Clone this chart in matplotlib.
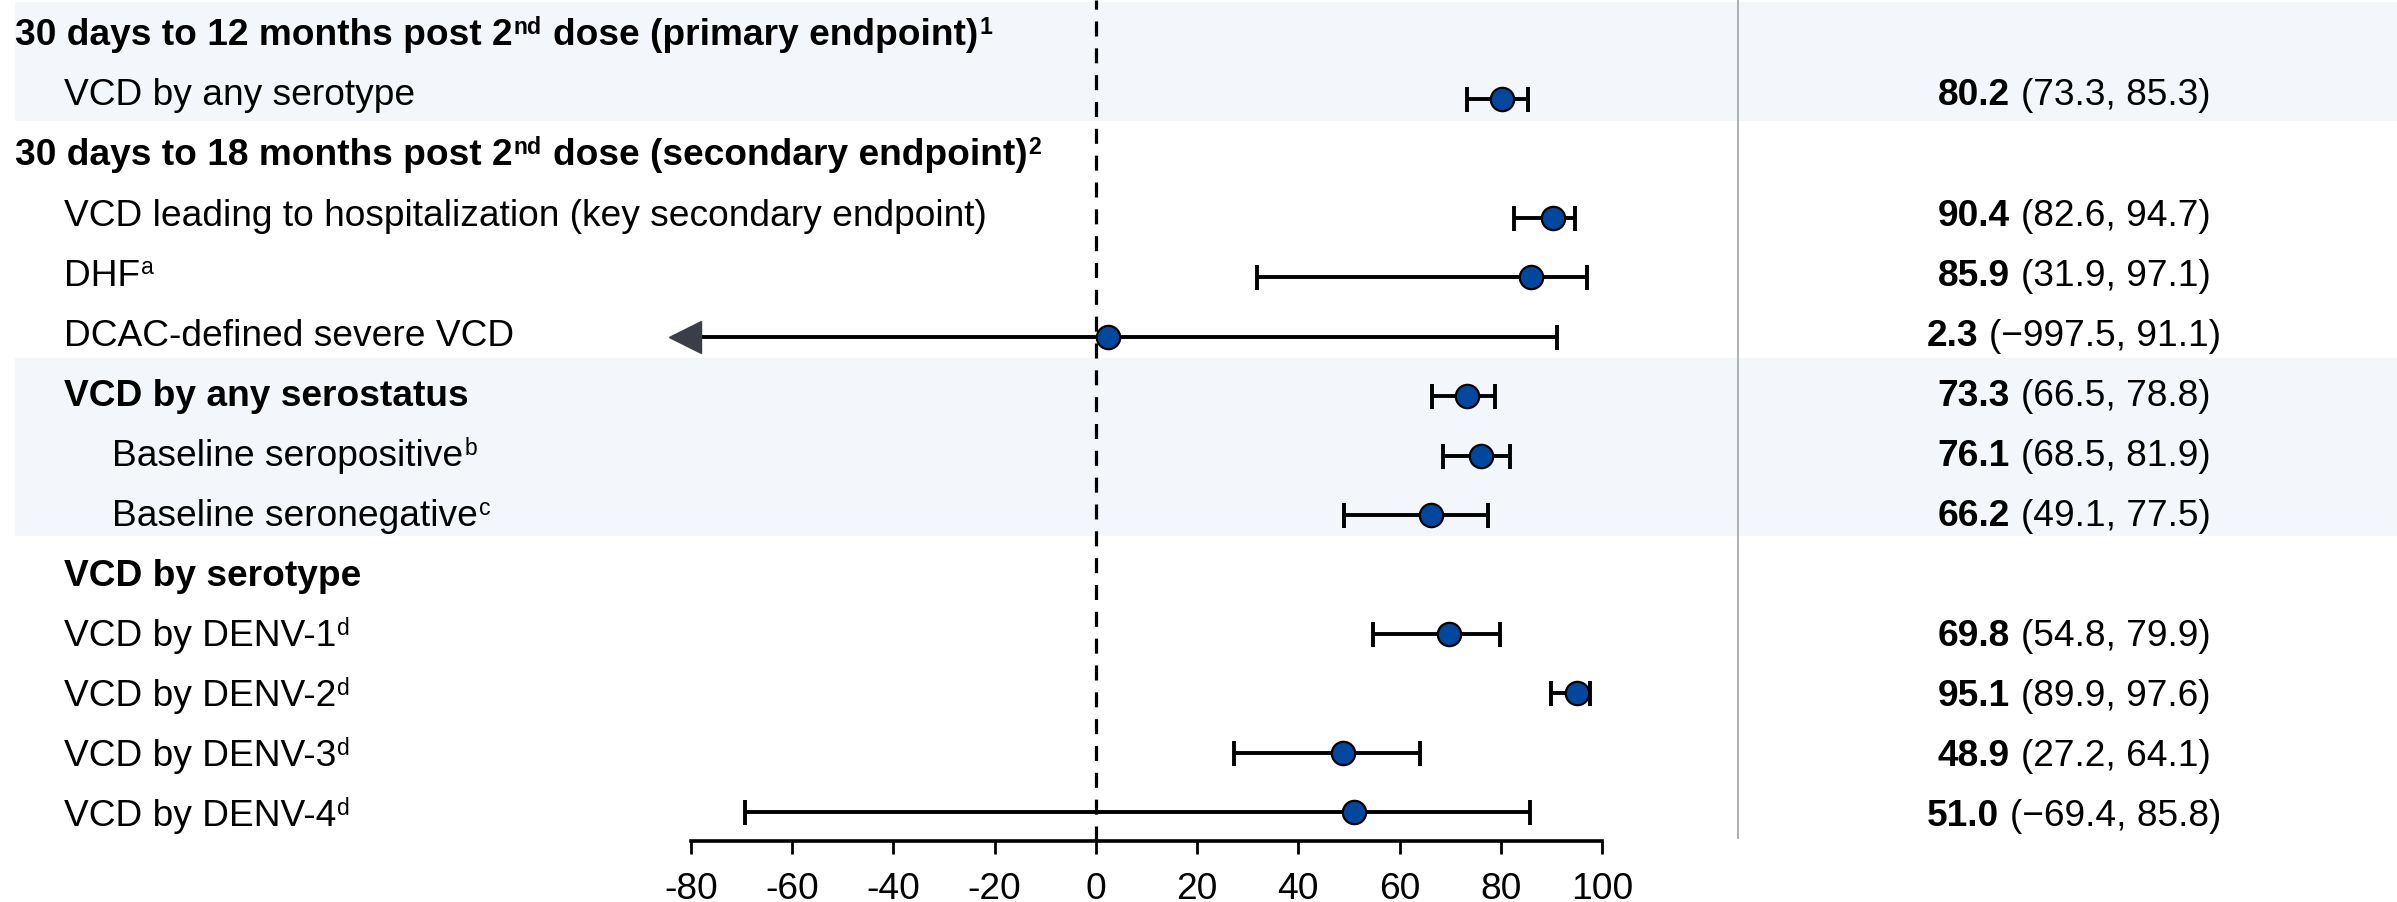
import re
import numpy as np
import matplotlib
matplotlib.use("Agg")
import matplotlib.pyplot as plt
import matplotlib.transforms as mtransforms
from matplotlib.patches import Rectangle
from matplotlib.lines import Line2D

plt.rcParams['font.family'] = ['Liberation Sans', 'DejaVu Sans']
plt.rcParams['axes.unicode_minus'] = False

# ---------------- data ----------------
# "^{...}" marks superscript text
labels = [
    "30 days to 12 months post 2^{nd} dose (primary endpoint)^{1}",
    "VCD by any serotype",
    "30 days to 18 months post 2^{nd} dose (secondary endpoint)^{2}",
    "VCD leading to hospitalization (key secondary endpoint)",
    "DHF^{a}",
    "DCAC-defined severe VCD",
    "VCD by any serostatus",
    "Baseline seropositive^{b}",
    "Baseline seronegative^{c}",
    "VCD by serotype",
    "VCD by DENV-1^{d}",
    "VCD by DENV-2^{d}",
    "VCD by DENV-3^{d}",
    "VCD by DENV-4^{d}",
]
levels = [0, 1, 0, 1, 1, 1, 1, 2, 2, 1, 1, 1, 1, 1]
bold_rows = [True, False, True, False, False, False, True, False, False, True,
             False, False, False, False]
nan = np.nan
estimates = [nan, 80.2, nan, 90.4, 85.9, 2.3, 73.3, 76.1, 66.2, nan, 69.8, 95.1, 48.9, 51.0]
lower = [nan, 73.3, nan, 82.6, 31.9, -997.5, 66.5, 68.5, 49.1, nan, 54.8, 89.9, 27.2, -69.4]
upper = [nan, 85.3, nan, 94.7, 97.1, 91.1, 78.8, 81.9, 77.5, nan, 79.9, 97.6, 64.1, 85.8]
shaded_groups = [(0, 1), (6, 8)]
xticks = [-80, -60, -40, -20, 0, 20, 40, 60, 80, 100]

# ---------------- style / layout ----------------
W, H, DPI = 2397, 902, 100
FS = 26.7
FS_PX = FS * DPI / 72
SUP_FS = 0.62 * FS
SUP_RAISE_PX = 0.30 * FS_PX
MARKER_FC = '#00479D'
BAND_C = '#F3F7FB'
ARROW_C = '#3B3E46'
SEP_C = '#A6A9AE'
LW = 2.8

fig = plt.figure(figsize=(W / DPI, H / DPI), dpi=DPI)
fig.patch.set_facecolor('white')
renderer = fig.canvas.get_renderer()

ax_left, ax_right = 691, 1602
ax_bottom_px = 841
ax = fig.add_axes([ax_left / W, 1 - ax_bottom_px / H, (ax_right - ax_left) / W, ax_bottom_px / H])
ax.patch.set_visible(False)

n = len(labels)
rows = np.arange(n)
row0_px, row_step = 39.8, 59.4          # marker rows (pixels from top)
text0_px, text_step = 32.0, 60.08       # text rows (pixels from top)
ax.set_ylim((ax_bottom_px - row0_px) / row_step, -row0_px / row_step)
AX_MIN, AX_MAX = xticks[0], xticks[-1]
ax.set_xlim(AX_MIN, AX_MAX)

for s in ['top', 'right', 'left']:
    ax.spines[s].set_visible(False)
ax.spines['bottom'].set_linewidth(2.6)
ax.set_yticks([])
ax.set_xticks(xticks)
ax.set_xticklabels([str(t) for t in xticks])
ax.tick_params(axis='x', direction='out', length=9, width=2.0, pad=13, labelsize=FS)

# shaded bands
band_tr = mtransforms.blended_transform_factory(fig.transFigure, ax.transData)
for a, b in shaded_groups:
    r = Rectangle((15 / W, a - 0.64), 1 - 15 / W, (b - a) + 1.0, transform=band_tr,
                  facecolor=BAND_C, edgecolor='none', zorder=0, clip_on=False)
    ax.add_patch(r)

# zero reference line
ax.axvline(0, color='black', lw=2.3, linestyle=(0, (4.7, 3.7)), zorder=2, clip_on=False)

# separator line
fig.add_artist(Line2D([1738 / W, 1738 / W], [1 - 838 / H, 1], transform=fig.transFigure,
                      color=SEP_C, lw=1.3))

# error bars & points
for i in rows:
    est, lo, hi = estimates[i], lower[i], upper[i]
    if np.isnan(est):
        continue
    if lo >= AX_MIN:
        ax.errorbar(est, i, xerr=[[est - lo], [hi - est]], fmt='none', ecolor='black',
                    elinewidth=LW, capsize=9, capthick=LW, zorder=3)
    else:
        ax.errorbar(est, i, xerr=[[0], [hi - est]], fmt='none', ecolor='black',
                    elinewidth=LW, capsize=9, capthick=LW, zorder=3)
        ax.plot([AX_MIN, est], [i, i], color='black', lw=LW, zorder=3, clip_on=False)
        tri_tr = ax.transData + mtransforms.ScaledTranslation(-6 / DPI, 0, fig.dpi_scale_trans)
        ax.plot([AX_MIN], [i], marker='<', ms=22.5, color=ARROW_C, mec=ARROW_C,
                linestyle='none', transform=tri_tr, clip_on=False, zorder=4)

ax.plot(estimates, rows, linestyle='none', marker='o', ms=16.8, mfc=MARKER_FC,
        mec='black', mew=1.6, zorder=5, clip_on=False)

# ---------------- text helpers ----------------
def px_to_fig_y(px_from_top):
    return 1 - px_from_top / H


def text_width(s, **kw):
    t = fig.text(0, 0, s, **kw)
    w = t.get_window_extent(renderer).width
    t.remove()
    return w


def put_rich(x_px, y_center_px, s, fontsize, weight):
    """Draw text with ^{...} superscripts, vertical centre on cap height."""
    baseline_px = y_center_px + 0.716 * fontsize * DPI / 72 / 2
    parts = re.split(r'(\^\{[^}]*\})', s)
    x = x_px
    space_w = text_width('a a', fontsize=fontsize, fontweight=weight) - \
        text_width('aa', fontsize=fontsize, fontweight=weight)
    for p in parts:
        if not p:
            continue
        if p.startswith('^{'):
            sub = p[2:-1]
            t = fig.text((x + 1) / W, px_to_fig_y(baseline_px - SUP_RAISE_PX), sub,
                         fontsize=SUP_FS, fontweight=weight, ha='left', va='baseline')
            x += t.get_window_extent(renderer).width + 2
        else:
            lead = len(p) - len(p.lstrip(' '))
            x += lead * space_w
            body = p.strip(' ')
            t = fig.text(x / W, px_to_fig_y(baseline_px), body, fontsize=fontsize,
                         fontweight=weight, ha='left', va='baseline')
            x += t.get_window_extent(renderer).width
            trail = len(p) - len(p.rstrip(' '))
            x += trail * space_w


indent_px = {0: 15, 1: 64, 2: 112}
for i in rows:
    y_px = text0_px + text_step * i
    put_rich(indent_px[levels[i]], y_px, labels[i], FS, 'bold' if bold_rows[i] else 'normal')


# right column
def fmt(v):
    return f"{v:.1f}".replace('-', '\u2212')


center_px = 2074
gap_px = 11
for i in rows:
    est = estimates[i]
    if np.isnan(est):
        continue
    y_px = text0_px + text_step * i
    base_y = px_to_fig_y(y_px + 0.716 * FS_PX / 2)
    t1 = fig.text(0, base_y, fmt(est), fontsize=FS, fontweight='bold', ha='left', va='baseline')
    t2 = fig.text(0, base_y, f"({fmt(lower[i])}, {fmt(upper[i])})", fontsize=FS,
                  ha='left', va='baseline')
    w1 = t1.get_window_extent(renderer).width
    w2 = t2.get_window_extent(renderer).width
    left = center_px - (w1 + gap_px + w2) / 2
    t1.set_x(left / W)
    t2.set_x((left + w1 + gap_px) / W)

fig.savefig('out.png', dpi=DPI)
